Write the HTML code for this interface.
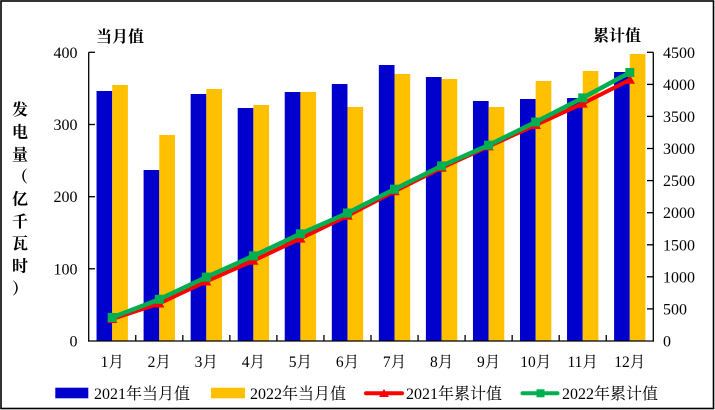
<!DOCTYPE html>
<html><head><meta charset="utf-8"><style>
html,body{margin:0;padding:0;background:#fff;}
svg{display:block;}
text{font-family:"Liberation Serif","Noto Serif CJK SC",serif;fill:#000;}
.cj{font-family:"Liberation Serif","Noto Serif CJK SC",serif;}
</style></head><body>
<svg width="715" height="410" viewBox="0 0 715 410" xmlns="http://www.w3.org/2000/svg">
<rect x="1" y="1" width="712.5" height="407.5" fill="#fff" stroke="#000" stroke-width="1.6"/>
<!-- bars blue -->
<g fill="#0000CC">
<rect x="96.54" y="91" width="15.68" height="250"/>
<rect x="143.59" y="170" width="15.68" height="171"/>
<rect x="190.64" y="94" width="15.68" height="247"/>
<rect x="237.69" y="108" width="15.68" height="233"/>
<rect x="284.74" y="92" width="15.68" height="249"/>
<rect x="331.79" y="84" width="15.68" height="257"/>
<rect x="378.84" y="65" width="15.68" height="276"/>
<rect x="425.89" y="77" width="15.68" height="264"/>
<rect x="472.94" y="101" width="15.68" height="240"/>
<rect x="519.99" y="99" width="15.68" height="242"/>
<rect x="567.04" y="98" width="15.68" height="243"/>
<rect x="614.09" y="72" width="15.68" height="269"/>
</g>
<g fill="#FFC000">
<rect x="112.22" y="85" width="15.68" height="256"/>
<rect x="159.27" y="135" width="15.68" height="206"/>
<rect x="206.32" y="89" width="15.68" height="252"/>
<rect x="253.37" y="105" width="15.68" height="236"/>
<rect x="300.42" y="92" width="15.68" height="249"/>
<rect x="347.47" y="107" width="15.68" height="234"/>
<rect x="394.52" y="74" width="15.68" height="267"/>
<rect x="441.57" y="79" width="15.68" height="262"/>
<rect x="488.62" y="107" width="15.68" height="234"/>
<rect x="535.67" y="81" width="15.68" height="260"/>
<rect x="582.72" y="71" width="15.68" height="270"/>
<rect x="629.77" y="54" width="15.68" height="287"/>
</g>
<!-- axes -->
<g stroke="#000" stroke-width="1.3" fill="none">
<line x1="88.7" y1="52.3" x2="88.7" y2="341.6"/>
<line x1="653.3" y1="52.3" x2="653.3" y2="341.6"/>
<line x1="88" y1="341" x2="654" y2="341"/>
<!-- left ticks -->
<line x1="88.7" y1="52.3" x2="95" y2="52.3"/>
<line x1="88.7" y1="124.5" x2="95" y2="124.5"/>
<line x1="88.7" y1="196.7" x2="95" y2="196.7"/>
<line x1="88.7" y1="268.8" x2="95" y2="268.8"/>
<!-- right ticks -->
<line x1="647" y1="52.3" x2="653.3" y2="52.3"/>
<line x1="647" y1="84.4" x2="653.3" y2="84.4"/>
<line x1="647" y1="116.4" x2="653.3" y2="116.4"/>
<line x1="647" y1="148.5" x2="653.3" y2="148.5"/>
<line x1="647" y1="180.6" x2="653.3" y2="180.6"/>
<line x1="647" y1="212.7" x2="653.3" y2="212.7"/>
<line x1="647" y1="244.8" x2="653.3" y2="244.8"/>
<line x1="647" y1="276.8" x2="653.3" y2="276.8"/>
<line x1="647" y1="308.9" x2="653.3" y2="308.9"/>
<!-- bottom ticks -->
<line x1="135.75" y1="335" x2="135.75" y2="341"/>
<line x1="182.8" y1="335" x2="182.8" y2="341"/>
<line x1="229.85" y1="335" x2="229.85" y2="341"/>
<line x1="276.9" y1="335" x2="276.9" y2="341"/>
<line x1="323.95" y1="335" x2="323.95" y2="341"/>
<line x1="371" y1="335" x2="371" y2="341"/>
<line x1="418.05" y1="335" x2="418.05" y2="341"/>
<line x1="465.1" y1="335" x2="465.1" y2="341"/>
<line x1="512.15" y1="335" x2="512.15" y2="341"/>
<line x1="559.2" y1="335" x2="559.2" y2="341"/>
<line x1="606.25" y1="335" x2="606.25" y2="341"/>
</g>
<!-- red line -->
<polyline fill="none" stroke="#FF0000" stroke-width="4" stroke-linejoin="round" points="112.2,319 159.3,303.5 206.3,281.5 253.4,260.7 300.4,238.6 347.5,215.8 394.5,191.3 441.6,167.8 488.6,146.4 535.7,125 582.7,103.6 629.8,79.8"/>
<g fill="#FF0000">
<polygon points="107,323 112.2,314 117.4,323"/>
<polygon points="154.1,307.5 159.3,298.5 164.5,307.5"/>
<polygon points="201.1,285.5 206.3,276.5 211.5,285.5"/>
<polygon points="248.2,264.7 253.4,255.7 258.6,264.7"/>
<polygon points="295.2,242.6 300.4,233.6 305.6,242.6"/>
<polygon points="342.3,219.8 347.5,210.8 352.7,219.8"/>
<polygon points="389.3,195.3 394.5,186.3 399.7,195.3"/>
<polygon points="436.4,171.8 441.6,162.8 446.8,171.8"/>
<polygon points="483.4,150.4 488.6,141.4 493.8,150.4"/>
<polygon points="530.5,129 535.7,120 540.9,129"/>
<polygon points="577.5,107.6 582.7,98.6 587.9,107.6"/>
<polygon points="624.6,83.8 629.8,74.8 635,83.8"/>
</g>
<!-- green line -->
<polyline fill="none" stroke="#00B050" stroke-width="4.5" stroke-linejoin="round" points="112.2,317.5 159.3,299.3 206.3,277.1 253.4,255.9 300.4,233.8 347.5,213 394.5,189.2 441.6,165.9 488.6,145.2 535.7,122 582.7,97.9 629.8,72.5"/>
<g fill="#00B050">
<rect x="107.7" y="313" width="9" height="9"/>
<rect x="154.8" y="294.8" width="9" height="9"/>
<rect x="201.8" y="272.6" width="9" height="9"/>
<rect x="248.9" y="251.4" width="9" height="9"/>
<rect x="295.9" y="229.3" width="9" height="9"/>
<rect x="343" y="208.5" width="9" height="9"/>
<rect x="390" y="184.7" width="9" height="9"/>
<rect x="437.1" y="161.4" width="9" height="9"/>
<rect x="484.1" y="140.7" width="9" height="9"/>
<rect x="531.2" y="117.5" width="9" height="9"/>
<rect x="578.2" y="93.4" width="9" height="9"/>
<rect x="625.3" y="68" width="9" height="9"/>
</g>
<!-- left labels -->
<g font-size="16" text-anchor="end">
<text x="77.5" y="57.8">400</text>
<text x="77.5" y="130">300</text>
<text x="77.5" y="202.2">200</text>
<text x="77.5" y="274.3">100</text>
<text x="77.5" y="346.5">0</text>
</g>
<!-- right labels -->
<g font-size="16" text-anchor="start">
<text x="663" y="57.8">4500</text>
<text x="663" y="89.9">4000</text>
<text x="663" y="121.9">3500</text>
<text x="663" y="154">3000</text>
<text x="663" y="186.1">2500</text>
<text x="663" y="218.2">2000</text>
<text x="663" y="250.3">1500</text>
<text x="663" y="282.3">1000</text>
<text x="663" y="314.4">500</text>
<text x="663" y="346.5">0</text>
</g>
<!-- x labels -->
<g font-size="15.5" text-anchor="middle">
<text x="112.2" y="367">1月</text>
<text x="159.3" y="367">2月</text>
<text x="206.3" y="367">3月</text>
<text x="253.4" y="367">4月</text>
<text x="300.4" y="367">5月</text>
<text x="347.5" y="367">6月</text>
<text x="394.5" y="367">7月</text>
<text x="441.6" y="367">8月</text>
<text x="488.6" y="367">9月</text>
<text x="535.7" y="367">10月</text>
<text x="582.7" y="367">11月</text>
<text x="629.8" y="367">12月</text>
</g>
<!-- titles -->
<text x="96" y="42" font-size="16" font-weight="bold">当月值</text>
<text x="593" y="41" font-size="16" font-weight="bold">累计值</text>
<g font-size="16" font-weight="bold" text-anchor="middle">
<text x="20" y="115">发</text>
<text x="20" y="137.5">电</text>
<text x="20" y="160">量</text>
<text x="20" y="182">（</text>
<text x="20" y="204.5">亿</text>
<text x="20" y="227">千</text>
<text x="20" y="249">瓦</text>
<text x="20" y="271.5">时</text>
<text x="20" y="294">）</text>
</g>
<!-- legend -->
<rect x="55.3" y="387.7" width="33" height="10.6" fill="#0000CC"/>
<text x="94" y="399" font-size="16">2021年当月值</text>
<rect x="211" y="387.7" width="34" height="10.6" fill="#FFC000"/>
<text x="250" y="399" font-size="16">2022年当月值</text>
<line x1="366" y1="393.3" x2="402" y2="393.3" stroke="#FF0000" stroke-width="4" stroke-linecap="round"/>
<polygon points="379,397 384,389 389,397" fill="#FF0000"/>
<text x="406" y="399" font-size="16">2021年累计值</text>
<line x1="522.5" y1="393.3" x2="557.5" y2="393.3" stroke="#00B050" stroke-width="4" stroke-linecap="round"/>
<rect x="536.5" y="389.3" width="8" height="8" fill="#00B050"/>
<text x="562" y="399" font-size="16">2022年累计值</text>
</svg>
</body></html>
